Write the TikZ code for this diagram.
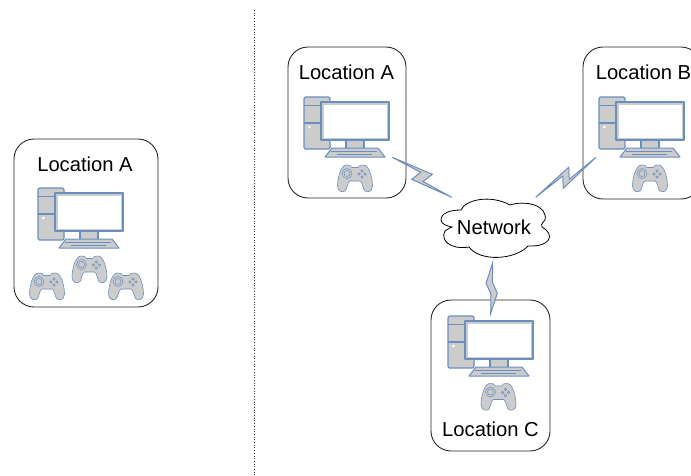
\documentclass[tikz,border=0pt]{standalone}
\usepackage{fontspec}
\setmainfont{Liberation Sans}
\definecolor{pcblue}{HTML}{6C8EBF}
\definecolor{pcgrey}{HTML}{CCCCCC}
\tikzset{
  x=1pt,y=-1pt,
  locbox/.style={draw=black!85,line width=0.9pt,rounded corners=20pt,inner sep=0pt,fill=white},
  lbl/.style={font=\fontsize{20.2}{24}\selectfont,inner sep=0pt,text=black},
  part/.style={draw=pcblue,fill=pcgrey,line width=1.2pt,line join=round},
  thinpart/.style={draw=pcblue,fill=pcgrey,line width=1pt,line join=round},
  padbody/.style={draw=pcblue,fill=pcgrey,line width=0.6pt,line join=round},
  bolt/.style={draw=pcblue,fill=pcgrey,line width=1pt,line join=miter,miter limit=10},
  computer/.pic={
    \draw[part,rounded corners=1.5pt] (0,0) rectangle (26,52);
    \draw[pcblue,line width=1.2pt] (0,8.7) -- (26,8.7) (0,26) -- (26,26);
    \fill[white] (5.3,30) circle (1.5);
    \draw[part] (42,42) rectangle (60,52);
    \draw[part] (17,5) rectangle (85,43);
    \fill[white] (19.5,7.5) rectangle (82.5,40.5);
    \draw[thinpart] (28,51) -- (74,51) -- (81,60) -- (21,60) -- cycle;
    \draw[pcblue,line width=1.1pt] (27,54.5) -- (73,54.5);
    \draw[pcblue,line width=1.2pt] (33,57.5) -- (68,57.5);
  },
  gamepad/.pic={
    \draw[padbody] (-9,-13) .. controls (-6,-13.5) and (-4,-12.5) .. (-3,-10.5)
      -- (3,-10.5) .. controls (4,-12.5) and (6,-13.5) .. (9,-13)
      .. controls (15,-12) and (17.5,2) .. (17.5,8)
      .. controls (17.5,14) and (11.5,15) .. (9.5,12.5)
      .. controls (7.5,9) and (7.5,4) .. (5,3) -- (-5,3)
      .. controls (-7.5,4) and (-7.5,9) .. (-9.5,12.5)
      .. controls (-11.5,15) and (-17.5,14) .. (-17.5,8)
      .. controls (-17.5,2) and (-15,-12) .. (-9,-13) -- cycle;
    \draw[pcblue,line width=0.5pt] (-8,-4.5) circle (5) (-8,-4.5) circle (3);
    \foreach \a/\b in {7/-7,7/-1,4/-4,10/-4}
      \draw[pcblue,line width=0.5pt] (\a,\b) circle (1.2);
  }
}
\begin{document}
\begin{tikzpicture}
\useasboundingbox (0,0) rectangle (691,475);
\draw[black!80,line width=0.7pt,dotted] (254,10) coordinate (dtop) -- (254,475);

% location boxes
\node[locbox,minimum width=144pt,minimum height=168pt] (boxL) at (86,223) {};
\node[locbox,minimum width=118pt,minimum height=151pt] (boxA) at (347,122.5) {};
\node[locbox,minimum width=118pt,minimum height=152pt] (boxB) at (642,123) {};
\node[locbox,minimum width=119pt,minimum height=151pt] (boxC) at (490.5,375.5) {};

\node[lbl] (tL) at (85,164) {Location A};
\node[lbl] (tA) at (346.5,72) {Location A};
\node[lbl] (tB) at (643.5,72) {Location B};
\node[lbl] (tC) at (490.5,429) {Location C};

% computers
\pic at (38,188) {computer};
\pic at (304,97) {computer};
\pic at (599,97) {computer};
\pic at (448,316) {computer};

% gamepads
\pic at (47,286) {gamepad};
\pic at (89.5,269) {gamepad};
\pic at (126,286) {gamepad};
\pic at (355,178) {gamepad};
\pic at (650,178) {gamepad};
\pic at (498.5,396.5) {gamepad};

% lightning links
\draw[bolt] (392.3,157.3) -- (432.3,174.3) -- (423,181.5) -- (451.7,197.3) -- (411.7,179.3) -- (420.7,172.3) -- cycle;
\draw[bolt] (596,157.3) -- (563.3,188.3) -- (562.7,176) -- (535.7,197.3) -- (568.7,167.3) -- (569.3,179.3) -- cycle;
\draw[bolt] (492.7,262.7) -- (486,283.3) -- (491,294) -- (490.7,313.3) -- (497.3,293.3) -- (492.3,282) -- cycle;

% cloud
\draw[black,line width=0.8pt,fill=white]
  (441,220) .. controls (441,213) and (450,210) .. (461,210)
  .. controls (465,200) and (490,194) .. (510,205)
  .. controls (525,200) and (548,205) .. (545,220)
  .. controls (541,224) and (541,226) .. (542,227)
  .. controls (556,235) and (550,247) .. (528,246)
  .. controls (515,260) and (480,262) .. (469,247)
  .. controls (450,250) and (440,240) .. (445,231)
  .. controls (449,228) and (452,227) .. (452,227)
  .. controls (447,226) and (441,224) .. (441,220) -- cycle;
\node[lbl] (net) at (494,227) {Network};
\end{tikzpicture}
\end{document}
